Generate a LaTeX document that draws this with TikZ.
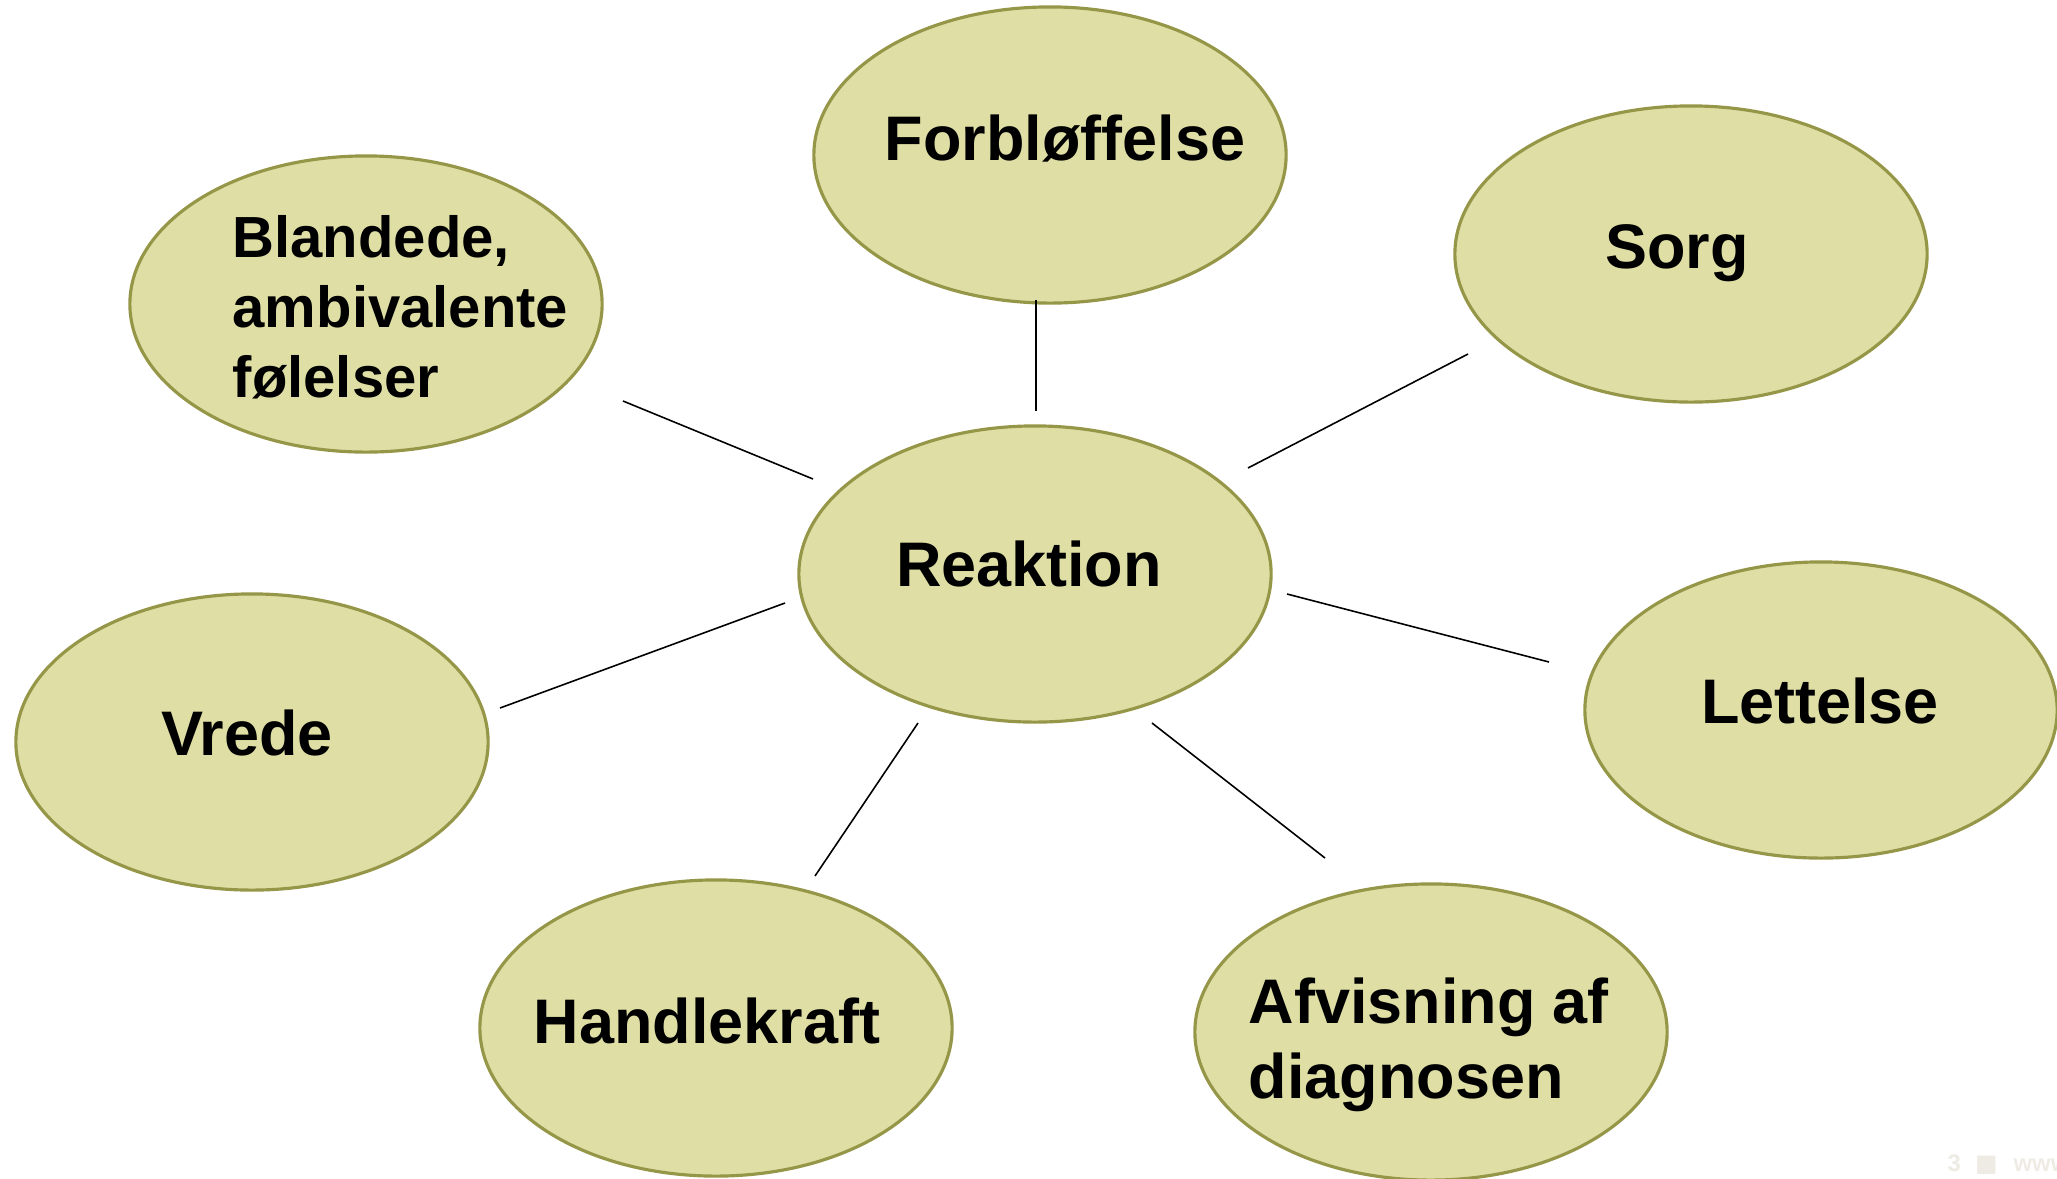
\documentclass[tikz,border=0pt]{standalone}
\usepackage{fontspec}
\setmainfont{Liberation Sans}
\newfontfamily\symfont{DejaVu Sans}
\usetikzlibrary{shapes.geometric}
\definecolor{bubblefill}{RGB}{223,223,165}
\definecolor{bubbleline}{RGB}{150,150,72}
\definecolor{footgray}{RGB}{238,235,228}
\tikzset{
  bubble/.style={ellipse, draw=bubbleline, fill=bubblefill, line width=0.9pt,
    minimum width=4.72cm, minimum height=2.96cm, inner sep=0pt},
  lbl/.style={font=\fontsize{17.9}{20.2}\selectfont\bfseries, anchor=base, inner sep=0pt},
  link/.style={draw=black, line width=0.45pt}
}
\begin{document}
\begin{tikzpicture}[x=0.01cm, y=-0.01cm]
\useasboundingbox (0,0) rectangle (2057,1178);
\clip (0,0) rectangle (2057,1178);
% bubbles
\node[bubble] (reak) at (1035,574) {};
\node[bubble] (forb) at (1050,155) {};
\node[bubble] (sorg) at (1691,254) {};
\node[bubble] (blan) at (366,304) {};
\node[bubble] (vred) at (252,742) {};
\node[bubble] (lett) at (1821,710) {};
\node[bubble] (hand) at (716,1028) {};
\node[bubble] (afvi) at (1431,1032) {};
% labels
\node[lbl] (reakT) at (1029,586) {Reaktion};
\node[lbl] (forbT) at (1065,160) {Forbløffelse};
\node[lbl] (sorgT) at (1677,268) {Sorg};
\node[lbl] (vredT) at (247,755) {Vrede};
\node[lbl] (lettT) at (1820,723) {Lettelse};
\node[lbl] (handT) at (707,1043) {Handlekraft};
\node[anchor=base west, inner sep=0pt, align=left, font=\fontsize{16.5}{19.9}\selectfont\bfseries] (blanT) at (232,397) {Blandede,\\ambivalente\\følelser};
\node[anchor=base west, inner sep=0pt, align=left, font=\fontsize{17.9}{21.3}\selectfont\bfseries] (afviT) at (1248,1098) {Afvisning af\\diagnosen};
% connector ends
\coordinate (cF1) at (1036,300); \coordinate (cF2) at (1036,411);
\coordinate (cS1) at (1468,354); \coordinate (cS2) at (1248,468);
\coordinate (cB1) at (623,401);  \coordinate (cB2) at (813,479);
\coordinate (cV1) at (500,708);  \coordinate (cV2) at (785,603);
\coordinate (cL1) at (1287,594); \coordinate (cL2) at (1549,662);
\coordinate (cH1) at (918,723);  \coordinate (cH2) at (815,876);
\coordinate (cA1) at (1152,723); \coordinate (cA2) at (1325,858);
\draw[link] (cF1) -- (cF2);
\draw[link] (cS1) -- (cS2);
\draw[link] (cB1) -- (cB2);
\draw[link] (cV1) -- (cV2);
\draw[link] (cL1) -- (cL2);
\draw[link] (cH1) -- (cH2);
\draw[link] (cA1) -- (cA2);
% footer
\node[anchor=base west, inner sep=0pt, text=footgray, font=\fontsize{6.8}{8}\selectfont\bfseries] (foot) at (1947,1171) {3\hspace{0.14cm}{\symfont ■}\hspace{0.16cm}www};
\end{tikzpicture}
\end{document}
